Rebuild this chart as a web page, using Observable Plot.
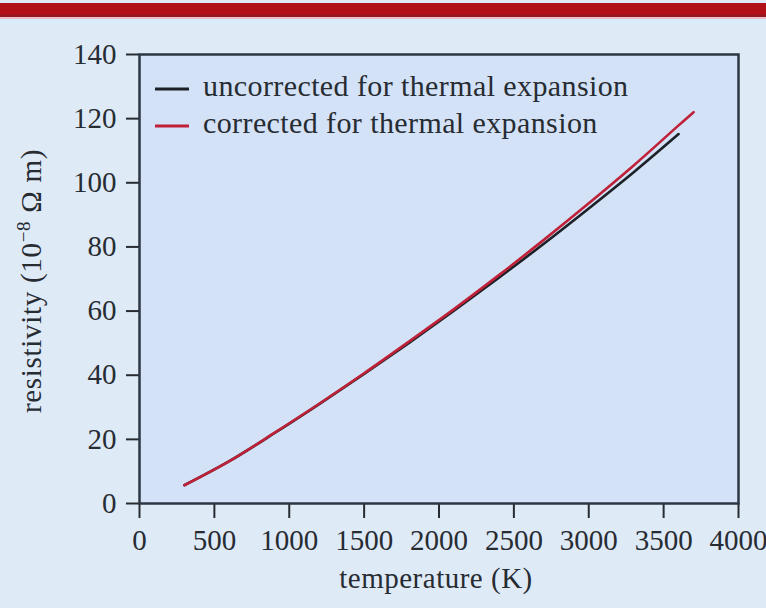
<!DOCTYPE html>
<html>
<head>
<meta charset="utf-8">
<script src="https://cdn.jsdelivr.net/npm/d3@7"></script>
<script src="https://cdn.jsdelivr.net/npm/@observablehq/plot@0.6"></script>
<style>
  html, body { margin: 0; padding: 0; background: #dfeaf7; }
  #wrap { position: relative; width: 766px; height: 608px; overflow: hidden; background: #dfeaf7; }
  #bar { position: absolute; left: 0; top: 3px; width: 766px; height: 12px; background: #b11219;
         border-bottom: 2px solid #8c1c24; box-shadow: 0 2px 0 #f2bcc6, 0 5px 3px #d3eef9; }
  #chart { position: absolute; left: 0; top: 0; }
</style>
</head>
<body>
<div id="wrap"><div id="bar"></div><div id="chart"></div></div>
<script>
// Data
const tempUncorrected = [300, 600, 900, 1200, 1500, 1800, 2100, 2400, 2700, 3000, 3300, 3600];
const rhoUncorrected  = [5.7, 13.2, 21.9, 31.0, 40.4, 50.1, 60.1, 70.4, 81.0, 92.0, 103.3, 115.2];
const tempCorrected   = [300, 600, 900, 1200, 1500, 1800, 2100, 2400, 2700, 3000, 3300, 3600, 3700];
const rhoCorrected    = [5.7, 13.2, 22.0, 31.1, 40.6, 50.5, 60.6, 71.2, 82.2, 93.6, 105.4, 117.9, 122.0];
const seriesNames  = ["uncorrected for thermal expansion", "corrected for thermal expansion"];
const seriesColors = ["#1c2127", "#bf2139"];
const xTicks = [0, 500, 1000, 1500, 2000, 2500, 3000, 3500, 4000];
const yTicks = [0, 20, 40, 60, 80, 100, 120, 140];
const xLabel = "temperature (K)";

const rows = [
  ...tempUncorrected.map((t, i) => ({T: t, rho: rhoUncorrected[i], s: seriesNames[0]})),
  ...tempCorrected.map((t, i) => ({T: t, rho: rhoCorrected[i], s: seriesNames[1]}))
];

const ink = "#272c33";
const plot = Plot.plot({
  width: 766, height: 608,
  marginLeft: 139, marginRight: 28, marginTop: 54, marginBottom: 105,
  style: {background: "transparent", fontFamily: "'Liberation Serif', 'Times New Roman', serif", fontSize: "29px", color: ink},
  x: {domain: [0, 4000], ticks: xTicks, tickFormat: d => String(d)},
  y: {domain: [0, 140], ticks: yTicks, tickFormat: d => String(d)},
  color: {domain: seriesNames, range: seriesColors},
  marks: [
    Plot.frame({fill: "#d3e2f6", stroke: null}),
    Plot.line(rows, {x: "T", y: "rho", z: "s", stroke: "s", strokeWidth: 2.6, curve: "catmull-rom"}),
    Plot.axisX({ticks: xTicks, tickSize: 15, tickPadding: 11, label: null, strokeWidth: 2, tickFormat: d => String(d)}),
    Plot.axisY({ticks: yTicks, tickSize: 13, tickPadding: 10, label: null, strokeWidth: 2, tickFormat: d => String(d)}),
    Plot.frame({stroke: "#2c3743", strokeWidth: 2.5})
  ]
});
document.getElementById("chart").appendChild(plot);

const svg = d3.select(plot);
// Legend
const leg = svg.append("g").attr("text-anchor", "start");
seriesNames.forEach((name, i) => {
  const cy = 89 + i * 37;
  leg.append("line").attr("x1", 155).attr("x2", 189).attr("y1", cy).attr("y2", cy)
    .attr("stroke", seriesColors[i]).attr("stroke-width", 3.2);
  leg.append("text").attr("x", 203).attr("y", cy + 6.5).attr("fill", ink).attr("text-anchor", "start")
    .attr("font-family", "'Liberation Serif', serif").attr("font-size", 30).attr("letter-spacing", 0.4).text(name);
});
// X label
svg.append("text").attr("x", 436).attr("y", 588).attr("text-anchor", "middle").attr("fill", ink)
  .attr("font-family", "'Liberation Serif', serif").attr("font-size", 29).attr("letter-spacing", 0.5).text(xLabel);
// Y label with superscript
const yl = svg.append("text").attr("transform", "translate(41,281) rotate(-90)").attr("text-anchor", "middle")
  .attr("fill", ink).attr("font-family", "'Liberation Serif', serif").attr("font-size", 29).attr("letter-spacing", 0.7);
yl.append("tspan").text("resistivity (10");
yl.append("tspan").attr("font-size", 19).attr("dy", -11).text("\u22128");
yl.append("tspan").attr("dy", 11).text(" \u03A9 m)");
</script>
</body>
</html>
